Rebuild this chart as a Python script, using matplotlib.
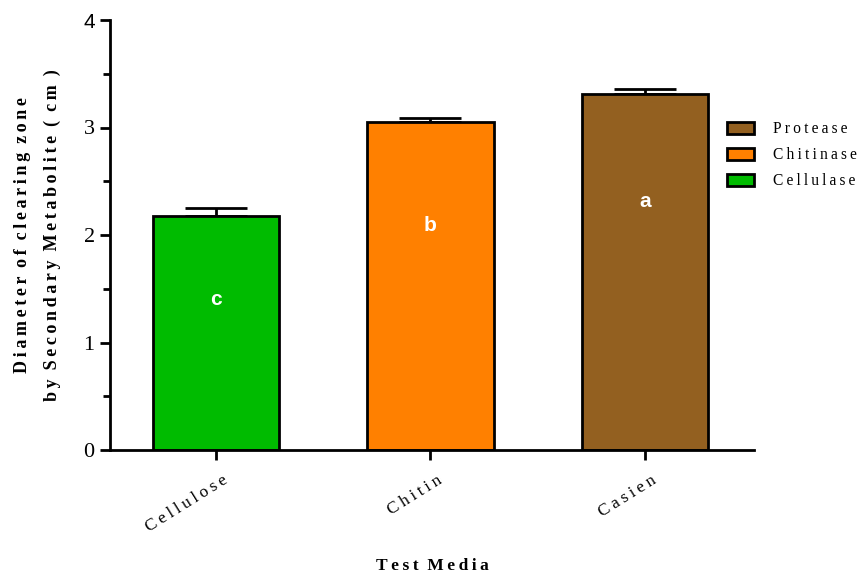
import matplotlib
matplotlib.use("Agg")
import matplotlib.pyplot as plt
import matplotlib.transforms as mtransforms
from matplotlib.patches import Patch

# Data
media = ["Cellulose", "Chitin", "Casien"]
enzymes = ["Cellulase", "Chitinase", "Protease"]
diameter = [2.18, 3.05, 3.31]
sem = [0.07, 0.04, 0.05]
groups = ["c", "b", "a"]
group_label_y = [1.40, 2.09, 2.31]
colors = ["#00BB00", "#FF8000", "#936020"]

SERIF = ["Liberation Serif", "DejaVu Serif"]


def spaced(s, gap="\u2009"):
    """Spread the letters of a string apart."""
    return gap.join(s).replace(gap + " " + gap, "  ")


fig = plt.figure(figsize=(8.59, 5.74), dpi=100)
ax = fig.add_axes([110 / 859, 1 - 450 / 574, (754 - 110) / 859, (450 - 20) / 574])

x = range(len(media))
ax.bar(x, diameter, width=0.59, color=colors, edgecolor="black", linewidth=2, zorder=2)
ax.errorbar(x, diameter, yerr=[[0] * len(sem), sem], fmt="none", ecolor="black",
            elinewidth=2, capsize=22, capthick=2, zorder=1)

for xi, g, gy in zip(x, groups, group_label_y):
    ax.text(xi, gy, g, color="white", fontsize=15, fontweight="bold",
            family=["Liberation Sans", "DejaVu Sans"], ha="center", va="center", zorder=3)

ax.set_xlim(-0.494, 2.508)
ax.set_ylim(0, 4)

for side in ("top", "right"):
    ax.spines[side].set_visible(False)
for side in ("left", "bottom"):
    ax.spines[side].set_linewidth(2)

ax.set_yticks([0, 1, 2, 3, 4])
ax.set_yticks([0.5, 1.5, 2.5, 3.5], minor=True)
ax.tick_params(axis="y", which="major", length=7, width=2, labelsize=16, pad=4)
ax.tick_params(axis="y", which="minor", length=5, width=2)
for lab in ax.get_yticklabels():
    lab.set_family(SERIF)
ax.get_yticklabels()[-1].set_family(["Liberation Sans", "DejaVu Sans"])
ax.get_yticklabels()[-1].set_fontsize(15)

ax.set_xticks(list(x))
ax.set_xticklabels([spaced(m) for m in media], rotation=32, ha="right",
                   rotation_mode="anchor", family=SERIF, fontsize=12.5)
ax.tick_params(axis="x", length=7, width=2, pad=9)
shift = mtransforms.ScaledTranslation(6 / 100, 0, fig.dpi_scale_trans)
for lab in ax.get_xticklabels():
    lab.set_transform(lab.get_transform() + shift)

fig.text(432 / 859, 1 - 566 / 574, spaced("Test Media"), family=SERIF, fontsize=12.5,
         fontweight="bold", ha="center", va="center")
ax.set_ylabel(spaced("Diameter of clearing zone") + "\n" +
              spaced("by Secondary Metabolite ( cm )"),
              family=SERIF, fontsize=13, fontweight="bold", labelpad=16,
              linespacing=1.95)

handles = [Patch(facecolor=c, edgecolor="black", linewidth=2) for c in colors]
leg = ax.legend(handles[::-1], [spaced(e) for e in enzymes[::-1]],
                loc="upper left", bbox_to_anchor=(727 / 859, 1 - 121 / 574),
                bbox_transform=fig.transFigure, frameon=False,
                prop={"family": SERIF, "size": 11.2},
                handlelength=1.75, handleheight=0.82, labelspacing=0.65,
                handletextpad=1.2, borderaxespad=0, borderpad=0)

fig.savefig("out.png", dpi=100)
